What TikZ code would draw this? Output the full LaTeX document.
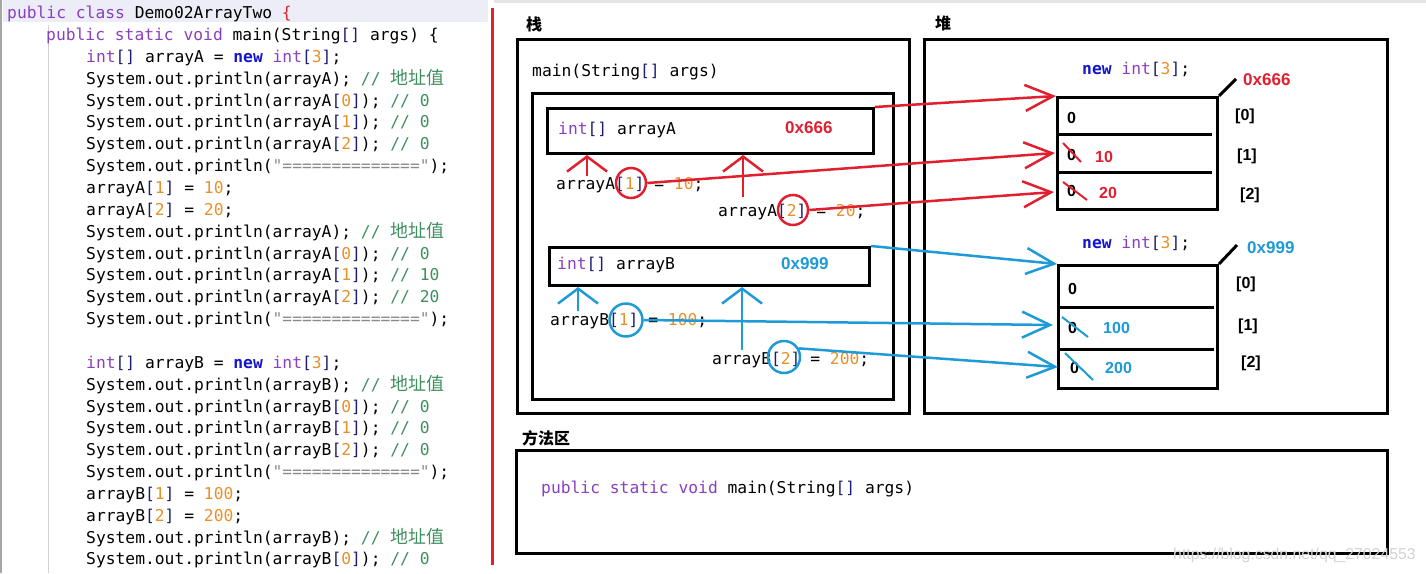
\documentclass[tikz,border=0pt]{standalone}
\usepackage{fontspec}
\usetikzlibrary{arrows.meta}
\setmonofont{DejaVu Sans Mono}
\newfontfamily\cjk{Noto Sans CJK SC}
\newfontfamily\lsans{Liberation Sans}
\definecolor{kwc}{HTML}{8A3FC0}
\definecolor{newc}{HTML}{1414C8}
\definecolor{brc}{HTML}{1E1E6E}
\definecolor{nmc}{HTML}{E8902A}
\definecolor{cmc}{HTML}{3F8F5F}
\definecolor{stc}{HTML}{8A8A8A}
\definecolor{rd}{HTML}{E0202E}
\definecolor{bl}{HTML}{1E9AD6}
\definecolor{hl}{HTML}{EDEDF7}
\newcommand\kwd[1]{\textcolor{kwc}{#1}}
\newcommand\nmb[1]{\textcolor{nmc}{#1}}
\newcommand\brk[1]{\textcolor{brc}{#1}}
\newcommand\cmt[1]{\textcolor{cmc}{#1}}
\newcommand\nw{\textcolor{newc}{\bfseries new}}
\newcommand\idx[1]{\brk{[}\nmb{#1}\brk{]}}
\newcommand\addr{\cmt{// {\cjk\fontsize{18}{18}\selectfont 地址值}}}
\newcommand\eqs{\textcolor{stc}{"=============="}}
\tikzset{
  code/.style={anchor=base west, inner sep=0pt, font=\ttfamily\fontsize{16.3}{16.3}\selectfont},
  box/.style={draw, line width=3pt, inner sep=0pt, anchor=north west},
  zh/.style={anchor=west, inner sep=0pt, font=\cjk\bfseries\fontsize{16}{16}\selectfont},
  cell/.style={anchor=west, inner sep=0pt, font=\lsans\bfseries\fontsize{16}{16}\selectfont},
  adr/.style={anchor=west, inner sep=0pt, font=\lsans\bfseries\fontsize{17}{17}\selectfont},
  ring/.style={circle, draw, line width=2.5pt, inner sep=0pt},
  hand/.style={line width=2.5pt, -{Straight Barb[length=28pt,width=26pt]}},
  uparr/.style={line width=2.5pt, -{Straight Barb[length=15pt,width=40pt]}},
  strike/.style={line width=2pt}
}
\begin{document}
\begin{tikzpicture}[x=1pt,y=-1pt]
\useasboundingbox (0,0) rectangle (1426,573);
% ---------- code panel ----------
\fill[hl] (3,0) rectangle (488,22);
\draw[gray!70, line width=1.5pt] (1,0) -- (1,573);
\draw[gray!35, line width=0.8pt] (48,25) -- (48,573);
\fill[gray!20] (494,0) rectangle (1426,3);
\node[code] (l0) at (7,18.7) {\kwd{public class} Demo02ArrayTwo \textcolor{rd}{\{}};
\node[code] (l1) at (46,18.7+21.85*1) {\kwd{public static void} main(String\brk{[]} args) \{};
\node[code] (l2) at (86,18.7+21.85*2) {\kwd{int}\brk{[]} arrayA = \nw{} \kwd{int}\idx{3};};
\node[code] (l3) at (86,18.7+21.85*3) {System.out.println(arrayA); \addr};
\node[code] (l4) at (86,18.7+21.85*4) {System.out.println(arrayA\idx{0}); \cmt{// 0}};
\node[code] (l5) at (86,18.7+21.85*5) {System.out.println(arrayA\idx{1}); \cmt{// 0}};
\node[code] (l6) at (86,18.7+21.85*6) {System.out.println(arrayA\idx{2}); \cmt{// 0}};
\node[code] (l7) at (86,18.7+21.85*7) {System.out.println(\eqs);};
\node[code] (l8) at (86,18.7+21.85*8) {arrayA\idx{1} = \nmb{10};};
\node[code] (l9) at (86,18.7+21.85*9) {arrayA\idx{2} = \nmb{20};};
\node[code] (l10) at (86,18.7+21.85*10) {System.out.println(arrayA); \addr};
\node[code] (l11) at (86,18.7+21.85*11) {System.out.println(arrayA\idx{0}); \cmt{// 0}};
\node[code] (l12) at (86,18.7+21.85*12) {System.out.println(arrayA\idx{1}); \cmt{// 10}};
\node[code] (l13) at (86,18.7+21.85*13) {System.out.println(arrayA\idx{2}); \cmt{// 20}};
\node[code] (l14) at (86,18.7+21.85*14) {System.out.println(\eqs);};
\node[code] (l16) at (86,18.7+21.85*16) {\kwd{int}\brk{[]} arrayB = \nw{} \kwd{int}\idx{3};};
\node[code] (l17) at (86,18.7+21.85*17) {System.out.println(arrayB); \addr};
\node[code] (l18) at (86,18.7+21.85*18) {System.out.println(arrayB\idx{0}); \cmt{// 0}};
\node[code] (l19) at (86,18.7+21.85*19) {System.out.println(arrayB\idx{1}); \cmt{// 0}};
\node[code] (l20) at (86,18.7+21.85*20) {System.out.println(arrayB\idx{2}); \cmt{// 0}};
\node[code] (l21) at (86,18.7+21.85*21) {System.out.println(\eqs);};
\node[code] (l22) at (86,18.7+21.85*22) {arrayB\idx{1} = \nmb{100};};
\node[code] (l23) at (86,18.7+21.85*23) {arrayB\idx{2} = \nmb{200};};
\node[code] (l24) at (86,18.7+21.85*24) {System.out.println(arrayB); \addr};
\node[code] (l25) at (86,18.7+21.85*25) {System.out.println(arrayB\idx{0}); \cmt{// 0}};
\draw[rd, line width=3pt] (492,8) -- (492,565);
% ---------- stack ----------
\node[zh] (stl) at (526,24) {栈};
\node[box, minimum width=392pt, minimum height=374pt] (stack) at (516,38) {};
\node[code] (mainsig) at (532,76) {main(String\brk{[]} args)};
\node[box, minimum width=361pt, minimum height=306pt] (frame) at (531,92) {};
\node[box, minimum width=326pt, minimum height=45pt] (aBox) at (546,107) {};
\node[code] (aTxt) at (558,134) {\kwd{int}\brk{[]} arrayA};
\node[adr, text=rd] (aAdr) at (785,128) {0x666};
\node[box, minimum width=320pt, minimum height=38pt] (bBox) at (548,246) {};
\node[code] (bTxt) at (557,269) {\kwd{int}\brk{[]} arrayB};
\node[adr, text=bl] (bAdr) at (781,264) {0x999};
\node[code] (sA1) at (556,189) {arrayA\idx{1} = \nmb{10};};
\node[code] (sA2) at (718,216) {arrayA\idx{2} = \nmb{20};};
\node[code] (sB1) at (550,325) {arrayB\idx{1} = \nmb{100};};
\node[code] (sB2) at (712,364) {arrayB\idx{2} = \nmb{200};};
% ---------- heap ----------
\node[zh] (hpl) at (935,23) {堆};
\node[box, minimum width=463pt, minimum height=374pt] (heap) at (923,38) {};
\node[code] (nA) at (1082,74) {\nw{} \kwd{int}\idx{3};};
\node[box, minimum width=160pt, minimum height=112pt] (hA) at (1056,96) {};
\draw[line width=3pt] (1056,134) -- (1212,134);
\draw[line width=3pt] (1056,172) -- (1212,172);
\draw[line width=3pt] (hA.north east) -- ++(17,-17);
\node[adr, text=rd] (hAadr) at (1243,80) {0x666};
\node[cell] (zA0) at (1067,118) {0};
\node[cell] (zA1) at (1067,155) {0};
\node[cell] (zA2) at (1067,191) {0};
\node[cell, text=rd] (vA1) at (1095,157) {10};
\node[cell, text=rd] (vA2) at (1099,193) {20};
\draw[rd, strike] (1063,143) -- (1081,162);
\draw[rd, strike] (1063,182) -- (1087,200);
\node[cell] (iA0) at (1235,116) {[0]};
\node[cell] (iA1) at (1237,156) {[1]};
\node[cell] (iA2) at (1240,195) {[2]};
\node[code] (nB) at (1082,248) {\nw{} \kwd{int}\idx{3};};
\node[box, minimum width=159pt, minimum height=123pt] (hB) at (1057,264) {};
\draw[line width=3pt] (1057,307) -- (1214,307);
\draw[line width=3pt] (1057,349) -- (1214,349);
\draw[line width=3pt] (hB.north east) -- ++(18,-19);
\node[adr, text=bl] (hBadr) at (1247,248) {0x999};
\node[cell] (zB0) at (1068,289) {0};
\node[cell] (zB1) at (1068,328) {0};
\node[cell] (zB2) at (1070,368) {0};
\node[cell, text=bl] (vB1) at (1103,328) {100};
\node[cell, text=bl] (vB2) at (1105,368) {200};
\draw[bl, strike] (1062,317) -- (1088,337);
\draw[bl, strike] (1065,353) -- (1093,380);
\node[cell] (iB0) at (1236,284) {[0]};
\node[cell] (iB1) at (1238,326) {[1]};
\node[cell] (iB2) at (1241,363) {[2]};
% ---------- rings ----------
\node[ring, draw=rd, minimum size=30pt] (cA1) at (631,183) {};
\node[ring, draw=rd, minimum size=30pt] (cA2) at (793,210) {};
\node[ring, draw=bl, minimum size=33pt] (cB1) at (626,320) {};
\node[ring, draw=bl, minimum size=32pt] (cB2) at (784,357) {};
% ---------- up arrows ----------
\coordinate (uA1) at (587,176);
\coordinate (uA2) at (743,197);
\coordinate (uB1) at (578,311);
\coordinate (uB2) at (742,350);
\draw[rd, uparr] (uA1) -- (uA1 |- aBox.south);
\draw[rd, uparr] (uA2) -- (uA2 |- aBox.south);
\draw[bl, uparr] (uB1) -- (uB1 |- bBox.south);
\draw[bl, uparr] (uB2) -- (uB2 |- bBox.south);
% ---------- pointers ----------
\coordinate (tA1) at (1055,153);
\coordinate (tA2) at (1054,192);
\coordinate (tB1) at (1053,325);
\coordinate (tB2) at (1058,367);
\draw[rd, hand] (aBox.north east) -- (hA.north west);
\draw[rd, hand] (cA1.east) -- (tA1);
\draw[rd, hand] (cA2.east) -- (tA2);
\draw[bl, hand] (bBox.north east) -- (hB.north west);
\draw[bl, hand] (cB1.east) -- (tB1);
\draw[bl, hand] (cB2.30) -- (tB2);
% ---------- method area ----------
\node[zh] (mal) at (522,438) {方法区};
\node[box, minimum width=871pt, minimum height=103pt] (method) at (515,449) {};
\node[code] (mtxt) at (541,493) {\kwd{public static void} main(String\brk{[]} args)};
\node[anchor=west, inner sep=0pt, text=gray!35, font=\lsans\fontsize{15.8}{16}\selectfont] (wm) at (1173,555) {https://blog.csdn.net/qq\_27024553};
\end{tikzpicture}
\end{document}
